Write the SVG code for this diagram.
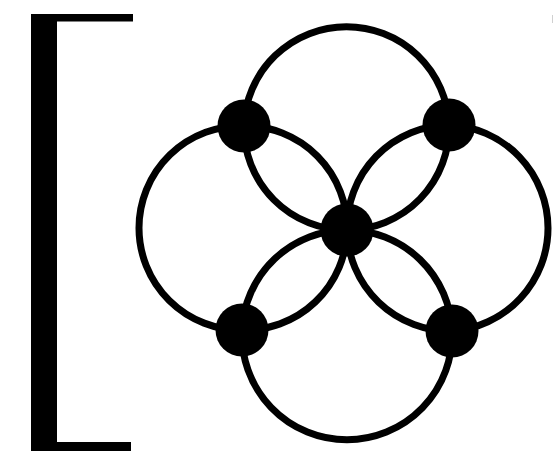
<svg xmlns="http://www.w3.org/2000/svg" width="553" height="453" viewBox="0 0 553 453">
<style>
.edge{fill:none;stroke:#000;stroke-width:7;stroke-linecap:round}
.node{fill:#000}
</style>
<rect width="553" height="453" fill="#fff"/>
<g id="bracket">
<path d="M31,14 L133,14 L133,21.5 L57,21.5 L57,442 L131,442 L131,451 L31,451 Z" fill="#000"/>
</g>
<rect x="552" y="15" width="1" height="8" fill="#d0d0d0"/>
<g id="connectors">
<path class="edge" d="M244,126 A102.6,102.6 0 0 1 346.5,26.7 A102.6,102.6 0 0 1 449,125"/>
<path class="edge" d="M244,126 A102.6,102.6 0 0 0 347,230"/>
<path class="edge" d="M347,230 A102.6,102.6 0 0 0 449,125"/>
<path class="edge" d="M244,126 A102,102 0 0 0 139,228 A102,102 0 0 0 242,330"/>
<path class="edge" d="M244,126 A102,102 0 0 1 347,230"/>
<path class="edge" d="M347,230 A102,102 0 0 1 242,330"/>
<path class="edge" d="M242,330 A105.1,105.1 0 0 0 347,439.8 A105.1,105.1 0 0 0 452,331"/>
<path class="edge" d="M242,330 A105.1,105.1 0 0 1 347,230"/>
<path class="edge" d="M347,230 A105.1,105.1 0 0 1 452,331"/>
<path class="edge" d="M449,125 A103.2,103.2 0 0 1 548,228 A103.2,103.2 0 0 1 452,331"/>
<path class="edge" d="M449,125 A103.2,103.2 0 0 0 347,230"/>
<path class="edge" d="M347,230 A103.2,103.2 0 0 0 452,331"/>
</g>
<g id="node-tl"><circle class="node" cx="244" cy="126" r="26.5"/></g>
<g id="node-tr"><circle class="node" cx="449" cy="125" r="26.5"/></g>
<g id="node-c"><circle class="node" cx="347" cy="230" r="26.5"/></g>
<g id="node-bl"><circle class="node" cx="242" cy="330" r="26.5"/></g>
<g id="node-br"><circle class="node" cx="452" cy="331" r="26.5"/></g>
</svg>
